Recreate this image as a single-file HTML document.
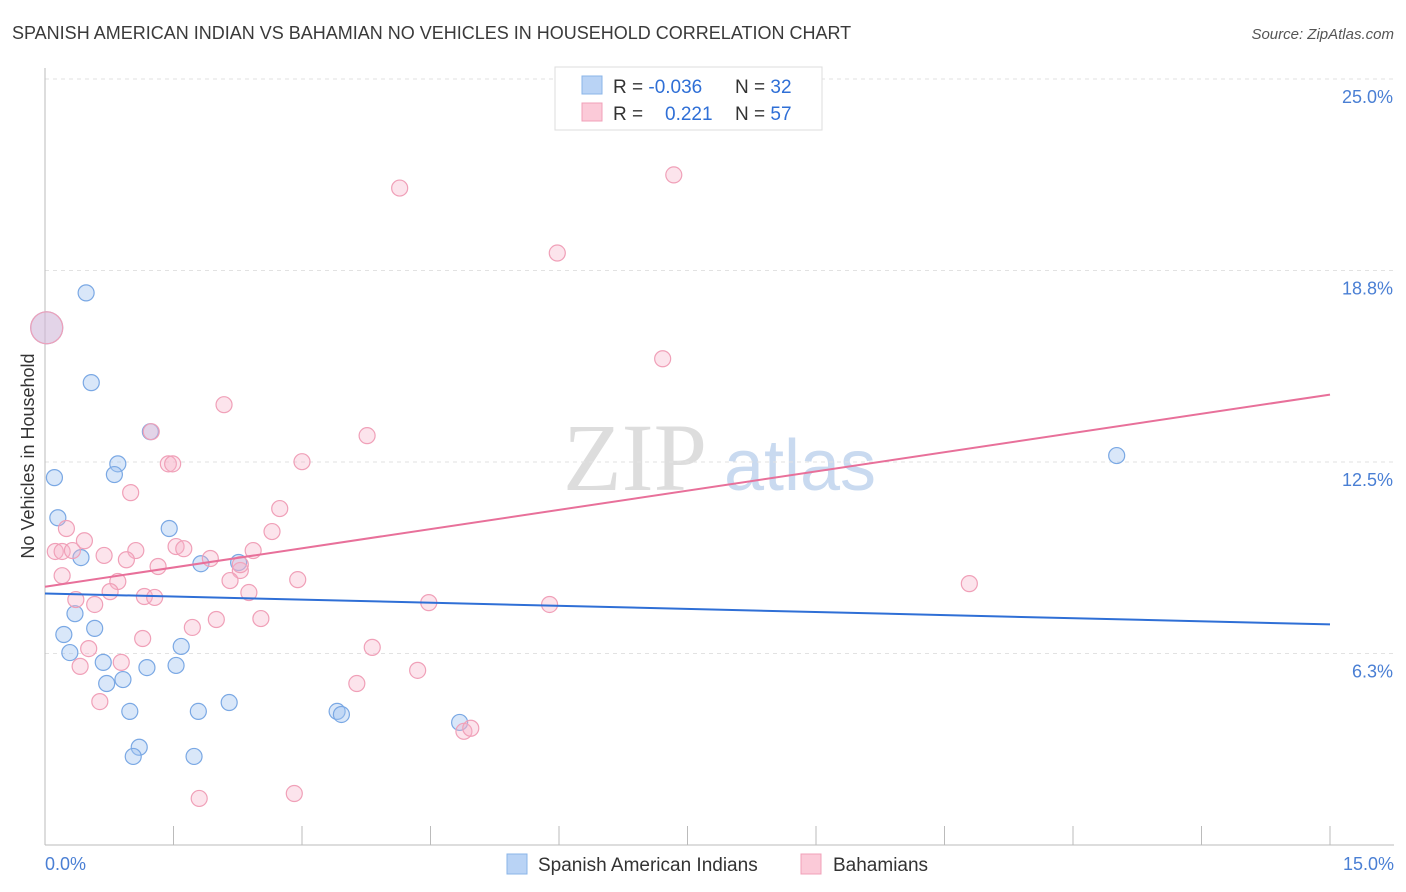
<!DOCTYPE html>
<html><head><meta charset="utf-8"><style>
body{margin:0;background:#fff;font-family:"Liberation Sans",sans-serif;}
svg{display:block}
</style></head><body>
<svg id="chart" width="1406" height="892">
<text x="12" y="39" font-size="18" fill="#3a3a3a">SPANISH AMERICAN INDIAN VS BAHAMIAN NO VEHICLES IN HOUSEHOLD CORRELATION CHART</text>
<text x="1394" y="39" font-size="15" fill="#555" font-style="italic" text-anchor="end">Source: ZipAtlas.com</text>
<g><text x="635" y="490" font-size="96" fill="#ddd" font-family="Liberation Serif,serif" text-anchor="middle">ZIP</text><text x="800" y="490" font-size="72" fill="#c9daf0" text-anchor="middle">atlas</text></g>
<g id="grid"></g><g id="axes"></g><g id="marks"></g>
<text transform="translate(34,456) rotate(-90)" font-size="18" fill="#333" text-anchor="middle">No Vehicles in Household</text>
<text x="45" y="870" font-size="18" fill="#4a7fd4">0.0%</text>
<text x="1394" y="870" font-size="18" fill="#4a7fd4" text-anchor="end">15.0%</text>
<g>
<rect x="555" y="67" width="267" height="63" fill="#fff" stroke="#ddd"/>
<rect x="582" y="76" width="20" height="18" fill="#b9d3f5" stroke="#8ab4e8"/>
<rect x="582" y="103" width="20" height="18" fill="#fbcad8" stroke="#f0a0b8"/>
<text x="613" y="93" font-size="19" fill="#333">R = <tspan fill="#2f6fd6">-0.036</tspan></text>
<text x="735" y="93" font-size="19" fill="#333">N = <tspan fill="#2f6fd6">32</tspan></text>
<text x="613" y="120" font-size="19" fill="#333">R = </text><text x="665" y="120" font-size="19" fill="#2f6fd6">0.221</text>
<text x="735" y="120" font-size="19" fill="#333">N = <tspan fill="#2f6fd6">57</tspan></text>
</g>
<g>
<rect x="507" y="854" width="20" height="20" fill="#b9d3f5" stroke="#8ab4e8"/>
<text x="538" y="871" font-size="19" fill="#333">Spanish American Indians</text>
<rect x="801" y="854" width="20" height="20" fill="#fbcad8" stroke="#f0a0b8"/>
<text x="833" y="871" font-size="19" fill="#333">Bahamians</text>
</g>
</svg>
<script>
const yTicks=[6.3,12.5,18.8,25.0];
const yTickVals=[6.25,12.5,18.75,25];
const blueX=[0.02,0.48,0.54,0.11,0.85,0.81,1.23,0.15,0.42,1.45,1.82,2.26,0.35,0.22,0.58,0.29,0.68,1.19,1.53,1.59,0.72,0.91,0.99,1.79,2.15,3.41,3.46,1.10,1.03,1.74,4.84,12.51];
const blueY=[16.88,18.02,15.09,11.99,12.44,12.09,13.49,10.68,9.38,10.33,9.18,9.22,7.55,6.87,7.07,6.28,5.96,5.79,5.86,6.48,5.27,5.40,4.36,4.36,4.65,4.36,4.26,3.19,2.89,2.89,4.00,12.71];
const pinkX=[0.02,4.14,7.34,5.98,7.21,2.09,3.76,1.24,1.44,1.49,3.00,1.00,0.25,2.74,2.65,0.46,0.12,0.20,0.32,0.69,1.06,1.53,1.62,0.95,1.93,2.43,1.32,2.28,0.20,0.85,2.16,2.95,10.79,0.76,2.38,0.36,1.16,1.28,0.58,4.48,5.89,2.52,2.00,1.72,1.14,0.51,3.82,0.89,0.41,4.35,3.64,0.64,4.89,4.97,1.80,2.91,2.28];
const pinkY=[16.88,21.44,21.87,19.32,15.87,14.37,13.36,13.49,12.44,12.44,12.51,11.50,10.33,10.98,10.23,9.93,9.58,9.58,9.61,9.45,9.61,9.74,9.67,9.31,9.35,9.61,9.09,8.96,8.79,8.60,8.63,8.66,8.53,8.27,8.24,8.01,8.11,8.08,7.85,7.91,7.85,7.39,7.36,7.10,6.74,6.41,6.45,5.96,5.83,5.70,5.27,4.68,3.71,3.81,1.52,1.68,9.15];
const blueTrend=[8.21,7.20];
const pinkTrend=[8.43,14.70];
const xr=[0,15];
const X=v=>45+v*(1330-45)/15;
const Y=v=>845-v*(845-79)/25;
const NS='http://www.w3.org/2000/svg';
function mk(t,a,p){const e=document.createElementNS(NS,t);for(const k in a)e.setAttribute(k,a[k]);p.appendChild(e);return e;}
const grid=document.getElementById('grid'),axes=document.getElementById('axes'),marks=document.getElementById('marks');
yTickVals.forEach((v,i)=>{
 const l=mk('line',{x1:45,x2:1394,y1:Y(v),y2:Y(v),stroke:'#e2e2e2','stroke-dasharray':'4,4'},grid);
 
 
 const t=mk('text',{x:1393,y:Y(v)+24,'font-size':18,fill:'#4a7fd4','text-anchor':'end'},axes);
 t.textContent=yTicks[i].toFixed(1)+'%';
 
 
});
const ya=mk('line',{x1:45,x2:45,y1:68,y2:845,stroke:'#bbb'},axes);


const xa=mk('line',{x1:45,x2:1394,y1:845,y2:845,stroke:'#bbb'},axes);


for(let i=0;i<=10;i++){
 const tk=mk('line',{x1:X(i*1.5),x2:X(i*1.5),y1:826,y2:845,stroke:'#bbb'},axes);
 
 
}
function pts(xs,ys,fill,stroke,name){
 xs.forEach((x,i)=>{
  const c=mk('circle',{cx:X(x),cy:Y(ys[i]),r:i===0?16:8,fill:fill,stroke:stroke,'stroke-width':1.2},marks);
  
  
 });
}
pts(blueX,blueY,'rgba(160,196,240,0.4)','#7aa8e4','spanish-american-indian-point');
pts(pinkX,pinkY,'rgba(246,178,200,0.35)','#f0a0b8','bahamian-point');
const bl=mk('line',{x1:X(xr[0]),x2:X(xr[1]),y1:Y(blueTrend[0]),y2:Y(blueTrend[1]),stroke:'#2f6fd6','stroke-width':2},marks);


const pl=mk('line',{x1:X(xr[0]),x2:X(xr[1]),y1:Y(pinkTrend[0]),y2:Y(pinkTrend[1]),stroke:'#e8709a','stroke-width':2},marks);


</script>
</body></html>
